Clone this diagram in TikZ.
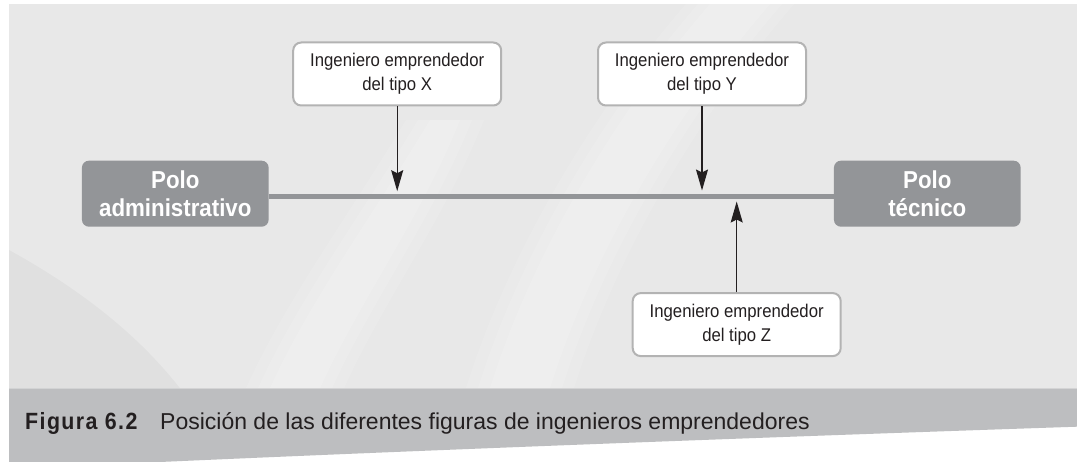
\documentclass[tikz,border=0pt]{standalone}
\usepackage{fontspec}
\setmainfont{Liberation Sans}
\newfontfamily\condfont[FakeStretch=0.91]{Liberation Sans}
\usetikzlibrary{arrows.meta}
\definecolor{panelgray}{HTML}{E8E8E8}
\definecolor{bandgray}{HTML}{BDBEC0}
\definecolor{polegray}{HTML}{939598}
\definecolor{labelborder}{HTML}{B3B3B3}
\definecolor{inkcol}{HTML}{231F20}
\tikzset{
  polebox/.style={fill=polegray, rounded corners=7pt, minimum width=186.7pt, minimum height=66pt,
    inner sep=0pt, align=center, text=white, font=\condfont\bfseries\fontsize{24.5}{27.4}\selectfont},
  labelbox/.style={fill=white, draw=labelborder, line width=2pt, rounded corners=8pt,
    minimum width=208pt, minimum height=63pt, inner sep=0pt, align=center, text=inkcol,
    font=\condfont\fontsize{18.4}{23.6}\selectfont},
  axisline/.style={draw=polegray, line width=5.5pt},
  arr/.style={draw=inkcol, line width=1.3pt, -{Stealth[length=21pt, width=12pt, inset=3pt]}},
  streak/.style={fill=white, opacity=0.12},
}
\begin{document}
\begin{tikzpicture}[x=1pt, y=-1pt]
\useasboundingbox (0,0) rectangle (1077,462);
% background panel
\fill[white] (0,0) rectangle (1077,462);
\fill[panelgray] (9,4) rectangle (1077,388.3);
% soft light streaks (layered to look blurred)
\foreach \w in {0,12,24}{
  \fill[streak] (430-\w,120) .. controls (370-\w,220) and (310-\w,300) .. (270-\w,388.3)
    -- (320+\w,388.3) .. controls (360+\w,300) and (420+\w,220) .. (460+\w,120) -- cycle;
  \fill[streak] (710-\w,4) .. controls (610-\w,120) and (530-\w,260) .. (490-\w,388.3)
    -- (550+\w,388.3) .. controls (590+\w,260) and (670+\w,120) .. (770+\w,4) -- cycle;
}
\fill[black, opacity=0.03] (9,250) .. controls (100,300) and (150,350) .. (180,388.3) -- (9,388.3) -- cycle;
% caption band
\fill[bandgray] (9,388.3) -- (1077,388.3) -- (1077,426.7)
  .. controls (800,436) and (450,449) .. (160,462) -- (9,462) -- cycle;
% poles
\node[polebox] (polA) at (175.3,193.7) {Polo\\administrativo};
\node[polebox] (polT) at (927.3,193.7) {Polo\\técnico};
\draw[axisline] ([yshift=-2.6pt]polA.east) -- ([yshift=-2.6pt]polT.west);
% labels
\node[labelbox] (lx) at (397.2,74) {Ingeniero emprendedor\\del tipo X};
\node[labelbox] (ly) at (702,74) {Ingeniero emprendedor\\del tipo Y};
\node[labelbox] (lz) at (736.7,324.6) {Ingeniero emprendedor\\del tipo Z};
\coordinate (tx) at (397.2,191.2);
\coordinate (ty) at (702,190.5);
\coordinate (tz) at (736.7,201.5);
\draw[arr] (lx.south) -- (tx);
\draw[arr] (ly.south) -- (ty);
\draw[arr] (lz.north) -- (tz);
% caption
\node[anchor=base west, inner sep=0pt, text=inkcol,
  font=\condfont\bfseries\fontsize{23.5}{26}\selectfont\addfontfeature{LetterSpace=6}] (fig) at (25,429.3) {Figura 6.2};
\node[anchor=base west, inner sep=0pt, text=inkcol,
  font=\fontsize{23}{26}\selectfont] (cap) at (160,429.3) {Posición de las diferentes figuras de ingenieros emprendedores};
\end{tikzpicture}
\end{document}
